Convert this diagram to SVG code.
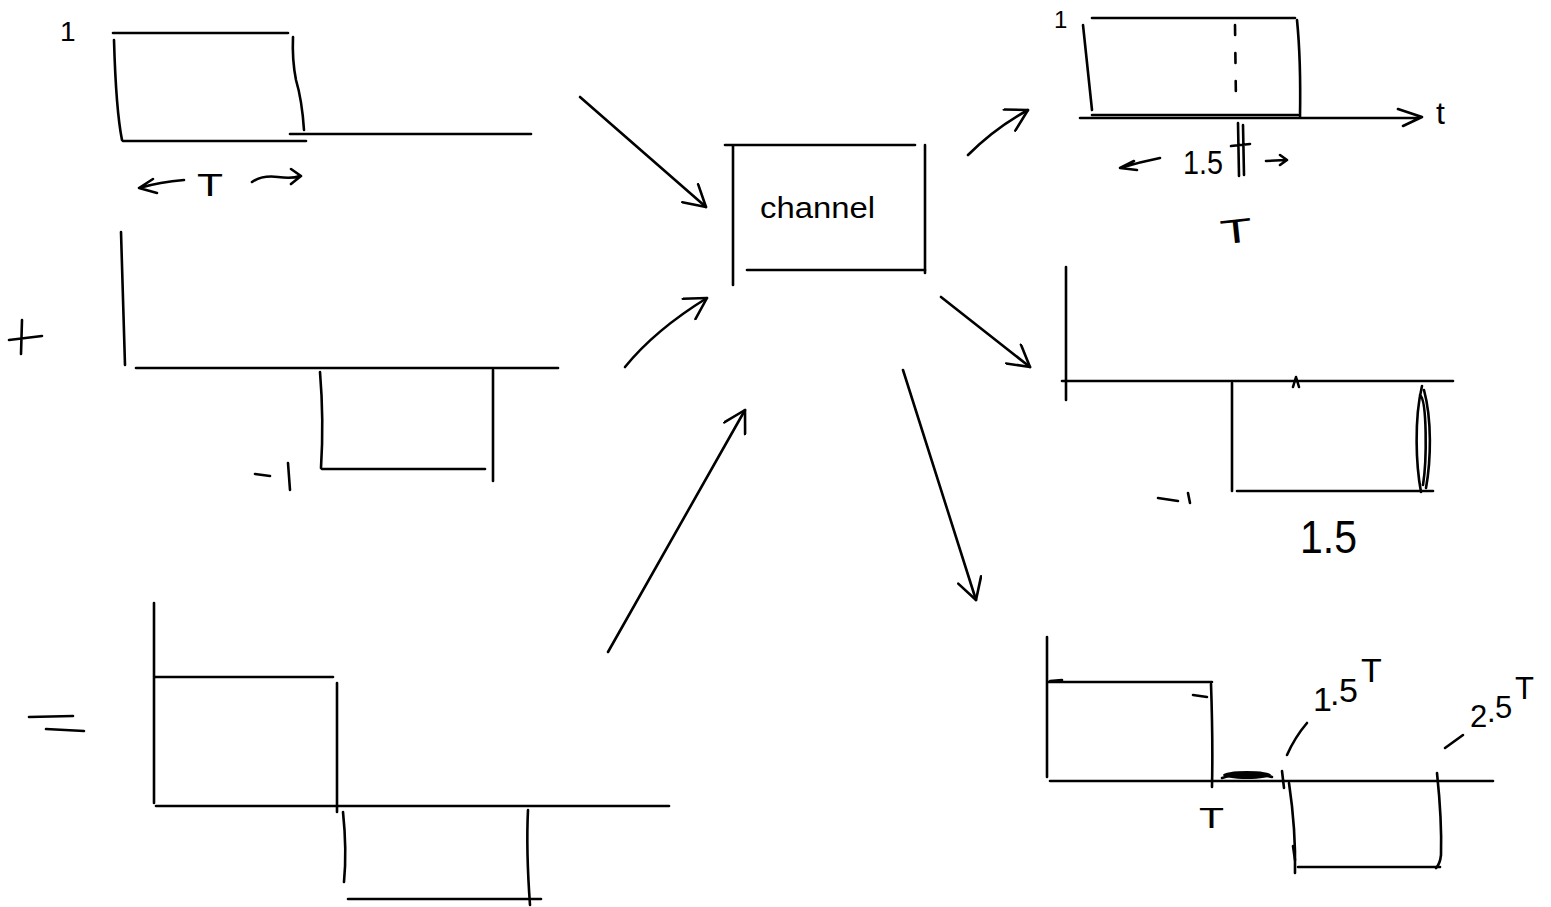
<svg xmlns="http://www.w3.org/2000/svg" width="1551" height="907" viewBox="0 0 1551 907">
<style>
  .s { fill: none; stroke: #000; stroke-width: 2.6; stroke-linecap: round; stroke-linejoin: round; }
  .t { font-family: "Liberation Sans", Arial, sans-serif; fill: #000; }
</style>
<defs>
  <marker id="head" viewBox="0 0 26 26" refX="24" refY="13" markerWidth="26" markerHeight="26" markerUnits="userSpaceOnUse" orient="auto">
    <path d="M3,1 L24,13 L3,25" fill="none" stroke="#000" stroke-width="2.6" stroke-linecap="round" stroke-linejoin="round"/>
  </marker>
</defs>
<rect width="1551" height="907" fill="#fff"/>

<g id="pulse-positive">
  <text class="t" x="60" y="41" font-size="28">1</text>
  <path class="s" d="M113,33 L288,33"/>
  <path class="s" d="M114,40 Q116,110 122,140"/>
  <path class="s" d="M123,141 L306,141"/>
  <path class="s" d="M293,37 Q292,60 296,80 Q302,100 304,130"/>
  <path class="s" d="M290,134 L531,134"/>
  <path class="s" d="M184,180 Q160,182 139,188 M153,179 L139,188 L157,193"/>
  <text class="t" x="197" y="196" font-size="32" textLength="26" lengthAdjust="spacingAndGlyphs">T</text>
  <path class="s" d="M252,182 Q262,175 278,177 Q292,179 300,176 M291,169 L301,176 L291,184"/>
</g>

<g id="pulse-negative">
  <path class="s" d="M9,340 L42,336 M22,320 L21,354"/>
  <path class="s" d="M121,232 L125,365"/>
  <path class="s" d="M136,368 L558,368"/>
  <path class="s" d="M320,372 Q324,420 321,468"/>
  <path class="s" d="M322,469 L485,469"/>
  <path class="s" d="M493,370 L493,481"/>
  <path class="s" d="M255,474 L270,476 M288,463 L290,490"/>
</g>

<g id="pulse-sum">
  <path class="s" d="M29,717 L73,716 M46,729 L84,731"/>
  <path class="s" d="M154,603 L154,803"/>
  <path class="s" d="M155,677 L333,677"/>
  <path class="s" d="M337,683 L337,812"/>
  <path class="s" d="M156,806 L669,806"/>
  <path class="s" d="M343,812 Q347,850 344,882"/>
  <path class="s" d="M528,810 Q526,850 530,905"/>
  <path class="s" d="M348,899 L541,899"/>
</g>

<g id="channel">
  <path class="s" d="M725,145 L915,145"/>
  <path class="s" d="M733,146 L733,285"/>
  <path class="s" d="M925,145 L925,273"/>
  <path class="s" d="M747,270 L925,270"/>
  <text class="t" x="760" y="218" font-size="29" textLength="115" lengthAdjust="spacingAndGlyphs">channel</text>
</g>

<g id="output-top">
  <text class="t" x="1054" y="28" font-size="24">1</text>
  <path class="s" d="M1092,18 L1295,18"/>
  <path class="s" d="M1083,25 L1092,110"/>
  <path class="s" d="M1092,115 L1298,115"/>
  <path class="s" d="M1080,118 L1420,118 M1398,109 L1422,117 L1403,126"/>
  <text class="t" x="1436" y="124" font-size="32">t</text>
  <path class="s" d="M1297,20 Q1301,60 1300,117"/>
  <path class="s" d="M1235,25 L1236,104" stroke-dasharray="10,18"/>
  <path class="s" d="M1160,158 Q1140,162 1120,168 M1134,161 L1120,168 L1137,170"/>
  <text class="t" x="1183" y="174" font-size="33" textLength="40" lengthAdjust="spacingAndGlyphs">1.5</text>
  <path class="s" d="M1238,123 L1239,176 M1243,125 L1244,175 M1231,146 L1250,144"/>
  <path class="s" d="M1266,161 L1286,160 M1280,155 L1287,160 L1280,165"/>
  <text class="t" x="1220" y="243" font-size="34" textLength="32" lengthAdjust="spacingAndGlyphs" transform="rotate(-6 1236 230)">T</text>
</g>

<g id="output-middle">
  <path class="s" d="M1066,267 L1066,400"/>
  <path class="s" d="M1062,381 L1453,381"/>
  <path class="s" d="M1232,383 L1232,491"/>
  <path class="s" d="M1237,491 L1433,491"/>
  <path class="s" d="M1422,386 C1414,420 1416,465 1421,492 M1424,390 C1432,420 1431,460 1426,488 M1420,395 C1427,400 1427,460 1423,485"/>
  <path class="s" d="M1293,387 L1296,377 L1299,387"/>
  <path class="s" d="M1158,498 L1178,501 M1188,493 L1190,503"/>
  <text class="t" x="1300" y="553" font-size="46" textLength="57" lengthAdjust="spacingAndGlyphs">1.5</text>
</g>

<g id="output-bottom">
  <path class="s" d="M1047,637 L1047,777"/>
  <path class="s" d="M1048,682 L1212,682 M1050,681 L1062,680"/>
  <path class="s" d="M1211,684 Q1213,740 1212,787"/>
  <path class="s" d="M1193,695 L1207,697"/>
  <path class="s" d="M1050,781 L1493,781"/>
  <ellipse cx="1247" cy="775" rx="24" ry="4" fill="#000"/>
  <path class="s" d="M1222,778 Q1247,770 1272,777"/>
  <path class="s" d="M1282,771 L1284,788" stroke-width="4.5"/>
  <path class="s" d="M1289,783 Q1296,830 1295,873"/>
  <path class="s" d="M1293,846 L1295,860" stroke-width="4.5"/>
  <path class="s" d="M1298,867 L1440,867"/>
  <path class="s" d="M1437,773 Q1442,820 1441,855 Q1440,864 1436,868"/>
  <text class="t" x="1199" y="828" font-size="30" textLength="25" lengthAdjust="spacingAndGlyphs">T</text>
  <path class="s" d="M1287,755 Q1295,737 1307,723"/>
  <text class="t" x="1313 1330 1339 1361" y="711 705 702 682" font-size="34">1.5T</text>
  <path class="s" d="M1445,748 L1463,735"/>
  <text class="t" x="1470 1487 1495 1515" y="727 722 718 699" font-size="31">2.5T</text>
</g>

<g id="connectors">
  <path class="s" d="M580,97 L706,207" marker-end="url(#head)"/>
  <path class="s" d="M625,367 Q655,330 707,298" marker-end="url(#head)"/>
  <path class="s" d="M608,652 L745,410" marker-end="url(#head)"/>
  <path class="s" d="M968,155 Q995,128 1028,110" marker-end="url(#head)"/>
  <path class="s" d="M941,297 L1030,367" marker-end="url(#head)"/>
  <path class="s" d="M903,370 L976,600" marker-end="url(#head)"/>
</g>
</svg>
